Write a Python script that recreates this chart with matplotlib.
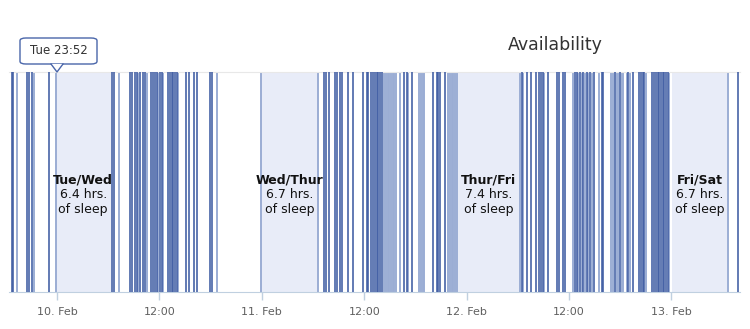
"""
Availability chart — online/offline events with sleep bands
"""

import numpy as np
import pandas as pd
import matplotlib
matplotlib.use('Agg')
import matplotlib.pyplot as plt
import matplotlib.dates as mdates
from matplotlib.patches import FancyBboxPatch, Polygon
from matplotlib.lines import Line2D

plt.rcParams['font.family'] = ['DejaVu Sans']

# ── data (hours relative to 10 Feb 00:00) ────────────────────────────────────
BASE = pd.Timestamp('2015-02-10 00:00')

dark_hours = [
    -5.31, -5.12, -3.55, -3.28, -2.97, -0.94,
    6.41, 6.68, 8.55, 8.73, 9.14, 9.34, 9.73, 10.11, 10.35, 11.02, 11.22,
    11.48, 11.68, 12.07, 12.27, 13.04, 13.24, 13.44, 13.63, 13.83, 14.03,
    15.15, 15.50, 16.03, 16.44, 17.93, 18.19,
    31.29, 31.47, 31.91, 32.61, 32.85, 33.17, 33.37, 34.14, 34.65, 35.83,
    36.29, 36.48, 36.76, 37.00, 37.27, 37.47, 37.65, 37.85, 38.05, 40.70,
    40.98, 41.57, 44.03, 44.50, 44.69, 44.88, 45.47,
    54.46, 55.12, 55.51, 56.14, 56.52, 56.69, 56.92, 57.51, 58.56, 58.87,
    59.33, 59.53, 60.71, 60.90, 61.29, 61.68, 62.08, 62.46, 62.97, 63.83,
    63.95, 65.39, 65.98, 66.95, 67.54, 68.24, 68.44, 68.64, 68.84, 69.69,
    69.99, 70.19, 70.39, 70.58, 70.78, 70.98, 71.17, 71.37, 71.57, 79.77,
]

light_hours = [
    -4.72, -2.66, -0.13, 7.23, 9.53, 10.51, 11.87, 12.46, 14.22, 18.72,
    23.91, 30.55, 38.36, 38.56, 38.76, 38.94, 39.14, 39.34, 39.53, 39.73,
    40.20, 41.10, 42.46, 42.66, 42.86, 43.04, 45.86, 46.06, 46.25, 46.44,
    46.64, 46.84, 54.26, 54.65, 57.11, 60.44, 61.09, 61.49, 61.88, 62.26,
    62.66, 63.52, 64.92, 65.12, 65.59, 65.78, 66.18, 66.37, 66.76, 67.15,
    69.04, 71.76, 78.67,
]

sleep_start = [-0.13, 23.91, 46.99, 72.07]
sleep_end = [6.27, 30.59, 54.14, 78.52]
sleep_names = ['Tue/Wed', 'Wed/Thur', 'Thur/Fri', 'Fri/Sat']
sleep_hrs = [6.4, 6.7, 7.4, 6.7]

x_min_h, x_max_h = -5.63, 80.04
tooltip_text = 'Tue 23:52'


def to_num(hours):
    t = BASE + pd.to_timedelta(np.asarray(hours, dtype=float), unit='h')
    return mdates.date2num(t.to_pydatetime())


# ── figure ───────────────────────────────────────────────────────────────────
W, H = 750, 329
fig = plt.figure(figsize=(W / 100, H / 100), dpi=100)
ax = fig.add_axes([9 / W, 1 - 292 / H, (740 - 9) / W, (292 - 72) / H])

DARK = '#3f5ca3'
LIGHT = '#9badd4'
BAND = '#e8ecf8'

# sleep bands
for s, e in zip(sleep_start, sleep_end):
    ax.axvspan(to_num(s), to_num(e), color=BAND, lw=0, zorder=1)

for x in to_num(light_hours):
    ax.axvline(x, color=LIGHT, lw=1.4, zorder=2)
for x in to_num(dark_hours):
    ax.axvline(x, color=DARK, lw=1.15, zorder=3)

# band labels
for s, e, name, hrs in zip(sleep_start, sleep_end, sleep_names, sleep_hrs):
    xc = to_num((s + e) / 2)
    ax.text(xc, 0.51, name, transform=ax.get_xaxis_transform(), ha='center',
            va='center', fontsize=9, fontweight='bold', color='#111111', zorder=5)
    ax.text(xc, 0.445, f'{hrs} hrs.', transform=ax.get_xaxis_transform(),
            ha='center', va='center', fontsize=9, color='#111111', zorder=5)
    ax.text(xc, 0.375, 'of sleep', transform=ax.get_xaxis_transform(),
            ha='center', va='center', fontsize=9, color='#111111', zorder=5)

ax.set_xlim(to_num(x_min_h), to_num(x_max_h))
ax.set_ylim(0, 1)
ax.set_yticks([])

# x ticks every 12 hours
tick_hours = np.arange(0, 80, 12)
ticks = to_num(tick_hours)
labels = []
for h in tick_hours:
    t = BASE + pd.Timedelta(hours=float(h))
    labels.append(f'{t.day}. {t:%b}' if t.hour == 0 else f'{t:%H:%M}')
ax.set_xticks(ticks)
ax.set_xticklabels(labels, fontsize=8, color='#606060')
ax.tick_params(axis='x', length=6, width=1, color='#c0d0e0', pad=5)

for side in ['left', 'right']:
    ax.spines[side].set_visible(False)
ax.spines['bottom'].set_color('#c0d0e0')
ax.spines['top'].set_color('#e8e8e8')

# title
fig.text(555 / W, 1 - 45 / H, 'Availability', ha='center', va='center',
         fontsize=12.5, color='#333333')

# tooltip
bx0, bx1, by0, by1 = 20, 97, 38, 64
box = FancyBboxPatch((bx0 / W, 1 - by1 / H), (bx1 - bx0) / W, (by1 - by0) / H,
                     boxstyle='round,pad=0,rounding_size=0.008',
                     transform=fig.transFigure, facecolor='white',
                     edgecolor='#4a66aa', lw=1, zorder=10)
fig.add_artist(box)
tri = [(51 / W, 1 - by1 / H), (63 / W, 1 - by1 / H), (57 / W, 1 - 72 / H)]
fig.add_artist(Polygon(tri, closed=True, transform=fig.transFigure,
                       facecolor='white', edgecolor='none', zorder=11))
fig.add_artist(Line2D([51 / W, 57 / W, 63 / W],
                      [1 - by1 / H, 1 - 72 / H, 1 - by1 / H],
                      transform=fig.transFigure, color='#4a66aa', lw=1, zorder=12))
fig.text((bx0 + bx1) / 2 / W, 1 - (by0 + by1) / 2 / H, tooltip_text,
         ha='center', va='center', fontsize=8.5, color='#333333', zorder=13)

fig.savefig('out.png', dpi=100)
